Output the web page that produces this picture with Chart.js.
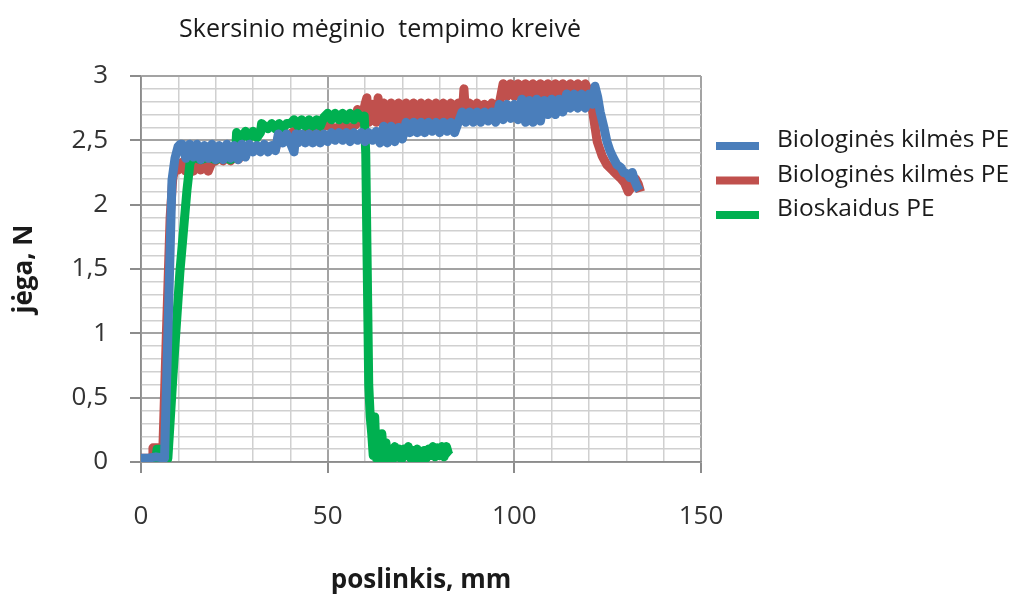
<!DOCTYPE html>
<html>
<head>
<meta charset="utf-8">
<script src="https://cdn.jsdelivr.net/npm/chart.js@4.4.1/dist/chart.umd.min.js"></script>
<style>
  body { margin: 0; background: #fff; }
  canvas { display: block; }
</style>
</head>
<body>
<canvas id="tensileChart" width="1013" height="594"></canvas>
<script>
// chart texts
const chartTitle = 'Skersinio mėginio  tempimo kreivė';
const xTitle = 'poslinkis, mm';
const yTitle = 'jėga, N';
const seriesNames = ['Biologinės kilmės PE', 'Biologinės kilmės PE', 'Bioskaidus PE'];
const seriesColors = ['#4a7ebb', '#c0504d', '#00b050'];

// axis ticks
const xMajorTicks = [0, 50, 100, 150];
const yMajorTicks = [0, 0.5, 1, 1.5, 2, 2.5, 3];

// [poslinkis mm, jėga N]
const bluePoints = [
  [0,0.03],[2,0.03],[4,0.04],[6.3,0.03],
  [7.3,1.1],[8.3,2.19],[9.1,2.36],[9.9,2.45],[10.5,2.47],
  [11,2.47],[12,2.36],[13,2.47],[14,2.37],[15,2.47],[16,2.35],[17,2.46],[18,2.36],[19,2.47],[20,2.35],
  [21,2.46],[22,2.35],[23,2.47],[24,2.36],[25,2.46],[26,2.35],[27,2.47],[28,2.37],
  [29,2.47],[30,2.41],[31,2.46],[32,2.41],[33,2.47],[34,2.41],[35,2.46],[36,2.42],
  [36.8,2.55],[38,2.48],[39,2.55],[40,2.48],[41,2.41],[41.5,2.55],[42,2.48],[43,2.55],[44,2.48],[45,2.55],
  [46,2.48],[47,2.55],[48,2.48],[49,2.55],[50,2.49],
  [51,2.56],[52,2.5],[53,2.56],[54,2.5],[55,2.56],[56,2.49],[57,2.56],[58,2.5],[59,2.56],[60,2.49],
  [61,2.56],[62,2.5],[63,2.57],
  [64,2.48],[65,2.61],[66,2.48],[67,2.61],[68,2.49],[69,2.6],[70,2.51],
  [71,2.64],[72,2.56],[73,2.64],[74,2.56],[75,2.64],[76,2.56],[77,2.64],[78,2.57],[79,2.64],[80,2.56],
  [81,2.64],[82,2.57],[83,2.64],[84,2.56],[85,2.64],
  [86,2.72],[87,2.64],[88,2.72],[89,2.64],[90,2.72],[91,2.64],[92,2.72],[93,2.65],[94,2.72],[95,2.64],
  [96,2.78],[97,2.66],[98,2.78],[99,2.67],[100,2.78],[101,2.66],
  [102,2.82],[103,2.64],[104,2.81],[105,2.64],[106,2.82],[107,2.65],[108,2.81],
  [109,2.7],[110,2.82],[111,2.7],[112,2.82],[113,2.72],
  [114,2.86],[115,2.75],[116,2.86],[117,2.75],[118,2.86],[119,2.75],[120,2.86],[121,2.78],
  [121.6,2.92],[122.3,2.84],[123,2.72],[124,2.6],[124.8,2.49],[125.6,2.42],[126.4,2.37],[127.5,2.31],
  [128.5,2.29],[129.3,2.25],[130.2,2.24],[131,2.21],[131.6,2.25],[132.3,2.18],[132.9,2.14],[133.5,2.11]
];

const redPoints = [
  [0,0.03],[3,0.03],[3.2,0.11],[4.8,0.11],[5.1,0.05],[5.8,0.05],
  [6.8,1.0],[7.8,1.9],[8.5,2.2],[9.2,2.3],
  [10,2.27],[11,2.33],[12,2.26],[13,2.33],[14,2.26],[15,2.33],[16,2.27],[17,2.33],[18,2.26],[19,2.33],
  [20,2.34],[21,2.38],[22,2.34],[23,2.38],[24,2.34],[25,2.38],[26,2.35],[27,2.38],
  [28,2.42],[30,2.44],[32,2.42],[34,2.45],[36,2.43],
  [37,2.55],[39,2.53],[41,2.57],[43,2.54],[45,2.57],[47,2.55],
  [48,2.6],[50,2.62],[52,2.59],[54,2.62],[56,2.6],[57.5,2.62],
  [58,2.74],[59,2.64],[60,2.78],[60.5,2.83],[61,2.64],[62,2.78],[63,2.64],[63.5,2.83],[64,2.65],[65,2.79],
  [66,2.64],[67,2.79],[68,2.64],[69,2.79],[70,2.65],[71,2.79],[72,2.64],[73,2.79],[74,2.65],[75,2.79],
  [76,2.66],[77,2.79],[78,2.65],[79,2.79],[80,2.66],[81,2.79],[82,2.66],[83,2.79],[84,2.66],[85,2.79],
  [86,2.68],[86.5,2.9],[87,2.68],[88,2.79],[89,2.67],[90,2.79],[91,2.68],[92,2.78],
  [93,2.75],[94,2.79],[95,2.75],[96,2.79],
  [97,2.94],[98,2.84],[99,2.94],[100,2.84],[101,2.94],[102,2.84],[103,2.94],[104,2.85],[105,2.94],[106,2.84],
  [107,2.94],[108,2.85],[109,2.94],[110,2.85],[111,2.94],[112,2.85],[113,2.94],[114,2.86],[115,2.94],[116,2.86],
  [117,2.94],[118,2.86],[119,2.94],[120,2.88],
  [120.5,2.85],[121,2.72],[122.2,2.49],[123.5,2.38],[124.8,2.31],[126.5,2.26],[128.3,2.21],[129.5,2.17],
  [130.5,2.1],[131.5,2.14],[132.5,2.2],[133.2,2.16],[133.8,2.1]
];

const greenPoints = [
  [0,0.02],[4,0.02],[4.3,0.1],[6.2,0.1],[6.7,0.03],[7.2,0.03],
  [8.6,0.69],[10.4,1.47],[12.3,2.11],[13.1,2.32],[13.9,2.37],
  [16,2.35],[18,2.37],[20,2.35],[22,2.37],[24,2.35],[25.3,2.37],
  [25.6,2.56],[27,2.52],[28,2.57],[29,2.52],[30,2.57],[31,2.52],[32,2.56],
  [32.3,2.63],[34,2.59],[35,2.63],[36,2.59],[37,2.63],[38,2.59],[39,2.63],
  [40,2.63],[41,2.66],[42,2.61],[43,2.66],[44,2.61],[45,2.66],[46,2.61],[47,2.66],[48,2.61],
  [49,2.68],[50,2.71],[51,2.66],[52,2.71],[53,2.66],[54,2.71],[55,2.66],[56,2.71],[57,2.66],[58,2.71],[59,2.67],[59.8,2.69],
  [60.2,2.4],[60.6,1.5],[61,0.6],[61.4,0.35],[61.8,0.22],[62.2,0.05],[62.6,0.35],[63,0.03],[63.5,0.12],
  [64,0.02],[64.5,0.22],[65,0.03],[65.6,0.15],[66.2,0.02],[66.8,0.1],[67.4,0.02],[68,0.12],[68.6,0.04],
  [69.2,0.1],[69.8,0.02],[70.4,0.1],[71,0.05],[71.6,0.12],[72.2,0.03],[72.8,0.09],[73.4,0.02],[74,0.1],
  [74.6,0.05],[75.2,0.0],[75.8,0.09],[76.4,0.03],[77,0.1],[77.6,0.05],[78.2,0.12],[78.8,0.04],[79.4,0.11],
  [80,0.05],[80.6,0.12],[81.2,0.04],[81.8,0.12],[82.4,0.06],[82.8,0.05]
];

const FONT = '"Open Sans", "Noto Sans", sans-serif';

function isMajor(value, list) {
  return list.some(v => Math.abs(v - value) < 1e-6);
}

function toXY(points) {
  return points.map(p => ({ x: p[0], y: p[1] }));
}

// title drawn off-centre like the original, legend drawn at right
const titleAndLegend = {
  id: 'titleAndLegend',
  afterDraw(chart) {
    const ctx = chart.ctx;
    const area = chart.chartArea;
    ctx.save();
    ctx.fillStyle = '#1a1a1a';
    ctx.font = '25px ' + FONT;
    ctx.textAlign = 'center';
    ctx.textBaseline = 'alphabetic';
    ctx.fillText(chartTitle, 380, 37);

    ctx.font = '24.5px ' + FONT;
    ctx.textAlign = 'left';
    chart.data.datasets.forEach((ds, i) => {
      const y = area.top + 70 + i * 34.5;
      ctx.strokeStyle = ds.borderColor;
      ctx.lineWidth = 8;
      ctx.beginPath();
      ctx.moveTo(area.right + 15, y);
      ctx.lineTo(area.right + 58, y);
      ctx.stroke();
      ctx.fillText(ds.label, area.right + 76, y + 1);
    });
    ctx.restore();
  }
};

new Chart(document.getElementById('tensileChart'), {
  type: 'scatter',
  data: {
    datasets: [
      { label: seriesNames[0], data: toXY(bluePoints), borderColor: seriesColors[0], backgroundColor: seriesColors[0], order: 0 },
      { label: seriesNames[1], data: toXY(redPoints), borderColor: seriesColors[1], backgroundColor: seriesColors[1], order: 2 },
      { label: seriesNames[2], data: toXY(greenPoints), borderColor: seriesColors[2], backgroundColor: seriesColors[2], order: 1 }
    ].map(ds => Object.assign(ds, {
      showLine: true,
      pointRadius: 0,
      borderWidth: 9,
      tension: 0,
      borderJoinStyle: 'round',
      borderCapStyle: 'butt'
    }))
  },
  options: {
    responsive: false,
    animation: false,
    devicePixelRatio: 1,
    layout: { padding: { top: 76, right: 312, left: 0, bottom: 0 } },
    plugins: {
      legend: { display: false },
      title: { display: false },
      tooltip: { enabled: false }
    },
    scales: {
      x: {
        type: 'linear',
        min: 0,
        max: 150,
        afterFit: s => { s.height = 132; },
        ticks: {
          stepSize: 10,
          autoSkip: false,
          maxRotation: 0,
          padding: 28,
          color: '#333',
          font: { family: FONT, size: 26 },
          callback: v => isMajor(v, xMajorTicks) ? String(v) : ''
        },
        grid: {
          color: c => isMajor(c.tick.value, xMajorTicks) ? '#a3a3a3' : '#d0d0d0',
          lineWidth: c => isMajor(c.tick.value, xMajorTicks) ? 2 : 1.5,
          tickLength: 11,
          tickColor: c => isMajor(c.tick.value, xMajorTicks) ? '#8c8c8c' : 'rgba(0,0,0,0)'
        },
        border: { color: '#8c8c8c', width: 1.5 },
        title: {
          display: true,
          text: xTitle,
          color: '#1a1a1a',
          font: { family: FONT, size: 26, weight: 'bold' },
          padding: { top: 0, bottom: -2 }
        }
      },
      y: {
        type: 'linear',
        min: 0,
        max: 3,
        afterFit: s => { s.width = 141; },
        ticks: {
          stepSize: 0.1,
          autoSkip: false,
          padding: 22,
          color: '#333',
          font: { family: FONT, size: 26 },
          callback: v => isMajor(v, yMajorTicks) ? String(Math.round(v * 10) / 10).replace('.', ',') : ''
        },
        grid: {
          color: c => isMajor(c.tick.value, yMajorTicks) ? '#a3a3a3' : '#d0d0d0',
          lineWidth: c => isMajor(c.tick.value, yMajorTicks) ? 2 : 1.5,
          tickLength: 11,
          tickColor: c => isMajor(c.tick.value, yMajorTicks) ? '#8c8c8c' : 'rgba(0,0,0,0)'
        },
        border: { color: '#8c8c8c', width: 1.5 },
        title: {
          display: true,
          text: yTitle,
          color: '#1a1a1a',
          font: { family: FONT, size: 26, weight: 'bold' },
          padding: { top: 9, bottom: 0 }
        }
      }
    }
  },
  plugins: [titleAndLegend]
});
</script>
</body>
</html>
